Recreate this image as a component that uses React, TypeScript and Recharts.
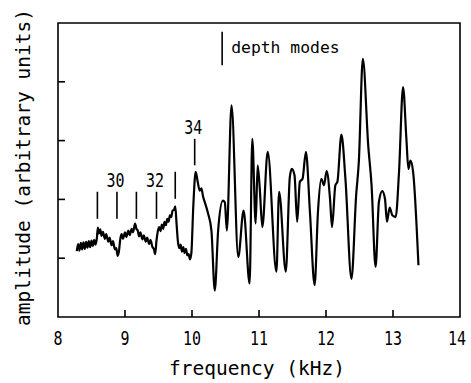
import React from "react";
import { LineChart, Line, XAxis, YAxis, ReferenceArea, ReferenceLine, Label } from "recharts";

// frequency (kHz)
const freq = [
  8.28, 8.30, 8.32, 8.34, 8.36, 8.38, 8.40, 8.42, 8.44, 8.46,
  8.48, 8.50, 8.52, 8.54, 8.56, 8.58, 8.595, 8.61, 8.63, 8.65,
  8.67, 8.70, 8.72, 8.75, 8.77, 8.80, 8.82, 8.85, 8.87, 8.89,
  8.91, 8.93, 8.95, 8.97, 9.00, 9.02, 9.05, 9.07, 9.10, 9.12,
  9.15, 9.17, 9.19, 9.21, 9.23, 9.26, 9.28, 9.31, 9.33, 9.36,
  9.38, 9.41, 9.43, 9.45, 9.47, 9.49, 9.51, 9.53, 9.55, 9.57,
  9.59, 9.61, 9.63, 9.65, 9.67, 9.69, 9.71, 9.73, 9.75, 9.77,
  9.79, 9.81, 9.83, 9.85, 9.87, 9.89, 9.91, 9.93, 9.95, 9.97,
  9.99, 10.02, 10.055, 10.085, 10.115, 10.14, 10.165, 10.20, 10.24, 10.29,
  10.34, 10.39, 10.46, 10.49, 10.52, 10.59, 10.69, 10.77, 10.86, 10.90,
  10.95, 10.98, 11.01, 11.05, 11.13, 11.26, 11.30, 11.40, 11.46, 11.49,
  11.53, 11.57, 11.61, 11.65, 11.70, 11.76, 11.83, 11.88, 11.93, 11.97,
  12.01, 12.06, 12.09, 12.14, 12.17, 12.23, 12.29, 12.38, 12.45, 12.49,
  12.55, 12.63, 12.68, 12.74, 12.79, 12.84, 12.88, 12.91, 12.95, 12.99,
  13.04, 13.09, 13.15, 13.20, 13.23, 13.26, 13.30, 13.38,
];

// amplitude (arbitrary units)
const amp = [
  1.12, 1.24, 1.13, 1.26, 1.15, 1.27, 1.16, 1.28, 1.18, 1.29,
  1.19, 1.30, 1.21, 1.31, 1.23, 1.34, 1.52, 1.42, 1.49, 1.38,
  1.45, 1.33, 1.41, 1.28, 1.35, 1.22, 1.29, 1.15, 1.17, 1.04,
  1.12, 1.33, 1.41, 1.33, 1.44, 1.36, 1.47, 1.39, 1.50, 1.44,
  1.59, 1.50, 1.47, 1.37, 1.44, 1.32, 1.39, 1.28, 1.35, 1.24,
  1.31, 1.19, 1.16, 1.07, 1.30, 1.46, 1.53, 1.46, 1.57, 1.50,
  1.62, 1.56, 1.67, 1.62, 1.73, 1.70, 1.81, 1.82, 1.88, 1.58,
  1.28, 1.17, 1.23, 1.11, 1.19, 1.09, 1.16, 1.05, 1.07, 0.98,
  1.08, 1.90, 2.47, 2.30, 2.15, 2.19, 2.05, 1.92, 1.76, 1.47,
  0.45, 1.47, 1.98, 1.95, 1.47, 3.60, 1.02, 1.81, 0.57, 3.03,
  1.59, 2.58, 2.21, 1.53, 2.81, 0.77, 2.13, 0.77, 2.38, 2.52,
  2.41, 1.62, 2.30, 2.35, 2.81, 1.79, 0.54, 1.79, 2.35, 2.24,
  2.48, 2.01, 1.53, 2.24, 2.30, 3.10, 2.35, 0.65, 2.07, 2.64,
  4.39, 2.92, 2.24, 0.85, 1.96, 2.14, 2.01, 1.62, 1.86, 1.73,
  1.70, 2.47, 3.91, 3.03, 2.52, 2.66, 2.47, 0.88,
];

// mode markers
const modeFreq = [8.588, 8.88, 9.17, 9.47, 9.75, 10.04];
const modeLow = [1.67, 1.67, 1.67, 1.67, 2.01, 2.58];
const modeHigh = [2.13, 2.13, 2.13, 2.13, 2.47, 3.03];
const modeLabels = ["", "30", "", "32", "", "34"];

// legend marker for depth modes
const legendFreq = 10.45;
const legendLow = 4.28;
const legendHigh = 4.85;
const legendText = "depth modes";

const xTicks = [8, 9, 10, 11, 12, 13, 14];
const yTicks = [1, 2, 3, 4];
const xLabel = "frequency (kHz)";
const yLabel = "amplitude (arbitrary units)";

const data = freq.map((f, i) => ({ freq: f, amp: amp[i] }));

const FONT = "'DejaVu Sans Mono', monospace";

const XTick = (props: any) => {
  const { x, y, payload } = props;
  const s = String(payload.value);
  const inner = payload.value !== 8 && payload.value !== 14;
  const shift = payload.value === 14 ? -3 : 0;
  return (
    <g>
      {inner && <line x1={x} x2={x} y1={y} y2={y - 7} stroke="#000" strokeWidth={1.6} />}
      <text
        x={x + shift}
        y={y + 28}
        textAnchor="middle"
        fontFamily={FONT}
        fontSize={20}
        fill="#000"
        textLength={s.length * 9}
        lengthAdjust="spacingAndGlyphs"
      >
        {s}
      </text>
    </g>
  );
};

const YTick = (props: any) => {
  const { x, y } = props;
  return <line x1={x} x2={x + 7} y1={y} y2={y} stroke="#000" strokeWidth={1.6} />;
};

const ModeLabel = (props: any) => {
  const { viewBox, text } = props;
  if (!viewBox || !text) return null;
  const cx = viewBox.x + (viewBox.width || 0) / 2 - 1.5;
  const top = viewBox.y;
  return (
    <text
      x={cx}
      y={top - 5}
      textAnchor="middle"
      fontFamily={FONT}
      fontSize={19}
      fill="#000"
      textLength={text.length * 9}
      lengthAdjust="spacingAndGlyphs"
    >
      {text}
    </text>
  );
};

const LegendLabel = (props: any) => {
  const { viewBox } = props;
  if (!viewBox) return null;
  return (
    <text x={viewBox.x + 9} y={52.5} fontFamily={FONT} fontSize={16.4} fill="#000">
      {legendText}
    </text>
  );
};

export default function App() {
  return (
    <div style={{ position: "absolute", left: 0, top: 0, background: "#fff" }}>
      <LineChart
        width={471}
        height={383}
        data={data}
        margin={{ top: 23, right: 11, left: 0, bottom: 0 }}
      >
        <XAxis
          dataKey="freq"
          type="number"
          domain={[8, 14]}
          ticks={xTicks}
          allowDataOverflow
          axisLine={false}
          tickLine={false}
          tickSize={0}
          tickMargin={0}
          height={66}
          interval={0}
          tick={<XTick />}
        >
          <Label
            content={() => (
              <text x={257} y={375} textAnchor="middle" fontFamily={FONT} fontSize={19.5} fill="#000">
                {xLabel}
              </text>
            )}
          />
        </XAxis>
        <YAxis
          type="number"
          domain={[0, 5]}
          ticks={yTicks}
          allowDataOverflow
          axisLine={false}
          tickLine={false}
          tickSize={0}
          tickMargin={0}
          width={58}
          interval={0}
          tick={<YTick />}
        >
          <Label
            content={() => (
              <text
                x={30}
                y={167.5}
                textAnchor="middle"
                fontFamily={FONT}
                fontSize={19.5}
                fill="#000"
                transform="rotate(-90, 30, 167.5)"
              >
                {yLabel}
              </text>
            )}
          />
        </YAxis>
        <ReferenceArea x1={8} x2={14} y1={0} y2={5} fill="none" stroke="#000" strokeWidth={1.6} />
        {modeFreq.map((f, i) => (
          <ReferenceLine
            key={"m" + i}
            segment={[
              { x: f, y: modeLow[i] },
              { x: f, y: modeHigh[i] },
            ]}
            stroke="#000"
            strokeWidth={1.6}
            label={<ModeLabel text={modeLabels[i]} />}
          />
        ))}
        <ReferenceLine
          segment={[
            { x: legendFreq, y: legendLow },
            { x: legendFreq, y: legendHigh },
          ]}
          stroke="#000"
          strokeWidth={1.6}
          label={<LegendLabel />}
        />
        <Line
          type="monotone"
          dataKey="amp"
          stroke="#000"
          strokeWidth={2.2}
          dot={false}
          isAnimationActive={false}
        />
      </LineChart>
    </div>
  );
}
